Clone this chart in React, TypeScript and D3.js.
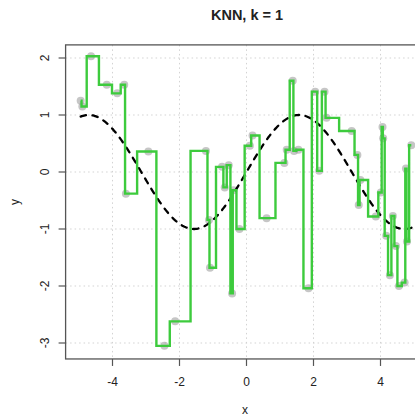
import React from "react";
import * as d3 from "d3";

const xs = [-4.95,-4.90,-4.64,-4.17,-3.86,-3.65,-3.60,-2.93,-2.45,-2.13,-1.21,-1.12,-1.09,-0.73,-0.65,-0.53,-0.43,-0.39,-0.21,0.10,0.18,0.60,1.13,1.20,1.38,1.42,1.55,1.85,2.05,2.17,2.33,2.39,3.14,3.31,3.35,3.40,3.86,4.01,4.06,4.08,4.17,4.28,4.37,4.46,4.55,4.72,4.76,4.79,4.92];
const ys = [1.25,1.15,2.03,1.53,1.38,1.53,-0.38,0.36,-3.05,-2.62,0.37,-0.84,-1.68,0.09,-0.27,0.12,-2.13,-0.32,-1.00,0.46,0.64,-0.81,0.16,0.39,1.60,0.37,0.39,-2.04,1.41,0.02,1.41,0.95,0.72,0.30,-0.58,-0.14,-0.78,-0.36,0.79,0.59,-1.12,-1.81,-0.77,-1.30,-2.00,-1.94,0.06,-1.22,0.47];
const xTicks = [-4, -2, 0, 2, 4];
const yTicks = [-3, -2, -1, 0, 1, 2];
const title = "KNN, k = 1";

export default function App() {
  const W = 415, H = 418;
  const x = d3.scaleLinear().domain([-4, 4]).range([112.5, 380.5]);
  const y = d3.scaleLinear().domain([-3, 2]).range([343, 58]);
  const left = x(-5.4), right = x(5.4), top = y(2.23), bottom = y(-3.28);
  const pts = xs.map((v, i) => [v, ys[i]] as [number, number]);
  const step = d3.line<[number, number]>().x(d => x(d[0])).y(d => y(d[1])).curve(d3.curveStep)(pts) || "";
  const sinPts = d3.range(0, 301).map(i => { const t = -4.95 + (9.9 * i) / 300; return [t, Math.sin(t)] as [number, number]; });
  const sinPath = d3.line<[number, number]>().x(d => x(d[0])).y(d => y(d[1]))(sinPts) || "";
  const font = "'Liberation Sans', Arial, sans-serif";
  return (
    <svg width={W} height={H} style={{ position: "absolute", left: 0, top: 0 }} fontFamily={font}>
      <rect width={W} height={H} fill="#fff" />
      <text x={247} y={20} textAnchor="middle" fontWeight="bold" fontSize={14.5} fill="#222">{title}</text>
      {xTicks.map(t => (
        <line key={"gx" + t} x1={x(t)} x2={x(t)} y1={top} y2={bottom} stroke="#d3d3d3" strokeDasharray="1.5,3" />
      ))}
      {yTicks.map(t => (
        <line key={"gy" + t} x1={left} x2={right} y1={y(t)} y2={y(t)} stroke="#d3d3d3" strokeDasharray="1.5,3" />
      ))}
      {pts.map((p, i) => (
        <circle key={i} cx={x(p[0])} cy={y(p[1])} r={4} fill="rgba(160,160,160,0.6)" />
      ))}
      <path d={sinPath} fill="none" stroke="#000" strokeWidth={2.3} strokeDasharray="5.5,6.5" strokeLinecap="round" />
      <path d={step} fill="none" stroke="#3dcb3d" strokeWidth={2.4} />
      <rect x={left} y={top} width={right - left} height={bottom - top} fill="none" stroke="#555" strokeWidth={1.3} />
      {xTicks.map(t => (
        <g key={"xt" + t}>
          <line x1={x(t)} x2={x(t)} y1={bottom} y2={bottom + 7} stroke="#555" strokeWidth={1.2} />
          <text x={x(t)} y={bottom + 27} textAnchor="middle" fontSize={12} fill="#222">{t}</text>
        </g>
      ))}
      {yTicks.map(t => (
        <g key={"yt" + t}>
          <line x1={left - 7} x2={left} y1={y(t)} y2={y(t)} stroke="#555" strokeWidth={1.2} />
          <text transform={`translate(${left - 17},${y(t)}) rotate(-90)`} textAnchor="middle" fontSize={12} fill="#222">{t}</text>
        </g>
      ))}
      <text x={245} y={414} textAnchor="middle" fontSize={12} fill="#222">x</text>
      <text transform={`translate(19,${(top + bottom) / 2}) rotate(-90)`} textAnchor="middle" fontSize={12} fill="#222">y</text>
    </svg>
  );
}
